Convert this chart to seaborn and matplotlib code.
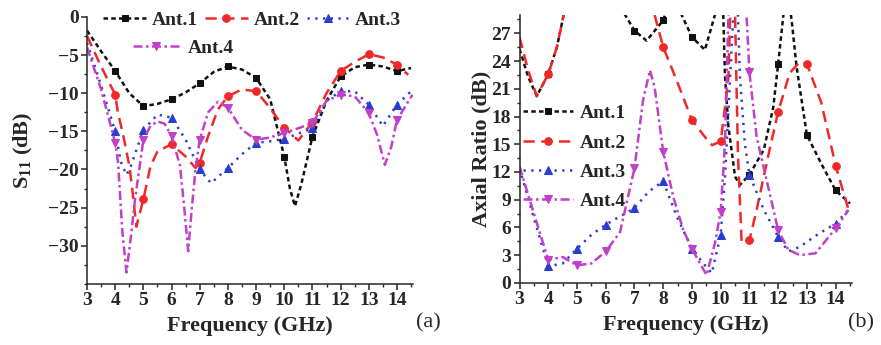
import matplotlib
matplotlib.use("Agg")
import matplotlib.pyplot as plt
from matplotlib.ticker import MultipleLocator
import seaborn as sns
import pandas as pd

# ---------------- data: (a) S11 ----------------
s11_freq_ant1 = [3, 3.5, 4, 4.5, 5, 5.5, 6, 6.5, 7, 7.5, 8, 8.5, 9, 9.5, 10, 10.2, 10.38, 10.6, 11, 11.5, 12, 12.5, 13, 13.5, 14, 14.5]
s11_ant1 = [-1.8, -4.5, -7.1, -10.0, -11.7, -11.4, -10.8, -9.9, -8.7, -7.2, -6.5, -6.9, -8.0, -10.8, -18.3, -22.5, -24.8, -22.0, -15.7, -11.0, -7.8, -6.6, -6.25, -6.5, -7.1, -6.7]

s11_freq_ant2 = [3, 3.5, 4, 4.1, 4.3, 4.5, 4.6, 4.75, 5, 5.25, 5.5, 6, 6.5, 6.85, 7, 7.3, 7.65, 8, 8.5, 9, 9.4, 10, 10.5, 11, 11.5, 12, 12.5, 13, 13.5, 14, 14.4]
s11_ant2 = [-2.5, -6.5, -10.2, -12.6, -15.8, -19.5, -22.4, -27.5, -23.9, -19.6, -17.6, -16.7, -18.3, -19.8, -19.1, -15.6, -12.1, -10.4, -9.5, -9.75, -11.5, -14.5, -16.2, -13.8, -10.0, -7.1, -5.9, -4.9, -5.3, -6.25, -7.6]

s11_freq_ant3 = [3, 3.5, 4, 4.2, 4.4, 4.55, 4.7, 5, 5.5, 6, 6.5, 7, 7.4, 8, 8.5, 9, 9.5, 10, 10.5, 11, 11.5, 12, 12.5, 13, 13.5, 14, 14.5]
s11_ant3 = [-3.4, -9.0, -15.0, -19.0, -20.7, -19.6, -18.0, -14.8, -12.8, -13.2, -16.1, -20.0, -21.8, -19.8, -18.0, -16.5, -16.3, -16.0, -15.3, -14.6, -11.0, -9.75, -9.75, -11.5, -14.3, -11.5, -9.75]

s11_freq_ant4 = [3, 3.5, 4, 4.1, 4.25, 4.4, 4.55, 4.7, 5, 5.25, 5.5, 5.75, 6, 6.3, 6.45, 6.59, 6.72, 6.85, 7, 7.3, 7.65, 8, 8.5, 9, 9.5, 10, 10.5, 11, 11.5, 12, 12.5, 13, 13.3, 13.57, 13.8, 14, 14.55]
s11_ant4 = [-4.0, -9.5, -16.5, -19.0, -28.0, -33.5, -29.0, -24.0, -16.1, -14.3, -13.7, -14.0, -15.6, -19.5, -25.0, -30.7, -25.0, -20.0, -16.1, -12.5, -11.1, -11.9, -14.8, -16.1, -15.8, -15.2, -14.6, -13.9, -11.0, -10.2, -10.4, -12.6, -15.5, -19.4, -17.0, -13.5, -10.2]

# ---------------- data: (b) Axial ratio ----------------
ar_freq_ant1 = [3, 3.3, 3.6, 4, 4.3, 4.55, 5.5, 6.67, 7, 7.42, 8, 8.1, 8.35, 8.64, 9, 9.45, 9.8, 9.95, 10.09, 10.15, 10.27, 10.5, 10.67, 11, 11.5, 11.83, 12, 12.2, 12.35, 12.47, 12.64, 13, 13.5, 14, 14.5]
ar_ant1 = [25.3, 22.3, 20.2, 22.6, 25.5, 29.2, 40, 29, 27.3, 26.2, 28.4, 29.3, 31, 29, 26.6, 25.2, 29, 35, 29, 22.3, 16.9, 11.5, 10.6, 11.7, 14.4, 19.0, 23.7, 29.5, 31, 28.4, 23.4, 16.0, 12.9, 10.0, 8.6]

ar_freq_ant2 = [3, 3.3, 3.6, 4, 4.3, 4.55, 6, 7.7, 8, 8.47, 9, 9.5, 9.7, 10, 10.15, 10.27, 10.33, 10.42, 10.5, 10.6, 10.73, 11, 11.25, 11.7, 12, 12.4, 12.75, 13, 13.5, 14, 14.45]
ar_ant2 = [26.6, 23.0, 20.2, 22.6, 25.5, 29.2, 40, 29, 25.5, 21.9, 17.6, 15.6, 14.9, 15.3, 19.0, 22.3, 29, 32, 29, 14.0, 4.3, 4.6, 7.9, 14.4, 18.5, 22.7, 23.9, 23.7, 19.5, 12.7, 7.9]

ar_freq_ant3 = [3, 3.5, 4, 4.5, 5, 5.5, 6, 6.5, 7, 7.5, 8, 8.47, 9, 9.4, 9.69, 10, 10.15, 10.33, 10.44, 10.52, 10.6, 10.67, 10.84, 11, 11.5, 12, 12.35, 12.75, 13.45, 14, 14.45]
ar_ant3 = [12.4, 7.0, 1.8, 2.1, 3.7, 5.2, 6.3, 7.2, 8.1, 9.9, 11.0, 7.2, 3.7, 2.1, 1.05, 5.2, 11.5, 22.3, 29, 32, 29, 22.3, 15.1, 11.7, 7.9, 5.0, 3.4, 3.9, 5.4, 6.4, 7.9]

ar_freq_ant4 = [3, 3.5, 4, 4.5, 5, 5.5, 6, 6.5, 7, 7.3, 7.54, 7.7, 8, 8.35, 8.7, 9, 9.28, 9.51, 9.8, 10, 10.15, 10.27, 10.6, 10.9, 11, 11.25, 11.6, 12, 12.35, 12.75, 13.3, 14, 14.45]
ar_ant4 = [12.6, 7.5, 2.5, 2.8, 1.9, 2.1, 3.4, 5.5, 12.4, 19.8, 23.0, 21.2, 14.2, 9.3, 5.7, 3.7, 2.1, 0.85, 4.3, 7.7, 15.1, 29, 40, 29, 22.8, 15.8, 11.1, 5.7, 3.6, 3.0, 3.2, 5.9, 7.9]

labels = ["Ant.1", "Ant.2", "Ant.3", "Ant.4"]
x_ticks = [3, 4, 5, 6, 7, 8, 9, 10, 11, 12, 13, 14]

# ---------------- styles ----------------
colors = ["#111111", "#f02828", "#2a3dd0", "#c23fc8"]
markers = ["s", "o", "^", "v"]
dash_patterns = [(1.8, 1.3), (4.5, 2.6), (0.9, 2.2), (3.6, 1.4, 1.0, 1.4)]
msizes = [5, 5.5, 6, 6]

sns.set_style("ticks")
plt.rcParams["font.family"] = ["Liberation Serif", "DejaVu Serif"]
plt.rcParams["mathtext.fontset"] = "custom"
plt.rcParams["mathtext.rm"] = "Liberation Serif:bold"
plt.rcParams["mathtext.it"] = "Liberation Serif:bold"
plt.rcParams["mathtext.bf"] = "Liberation Serif:bold"

fig = plt.figure(figsize=(8.81, 3.45), dpi=100)
ax1 = fig.add_axes([0.0988, 0.177, 0.370, 0.774])
ax2 = fig.add_axes([0.5897, 0.180, 0.3774, 0.777])


def draw(ax, freqs, vals):
    for i, (f, v) in enumerate(zip(freqs, vals)):
        df = pd.DataFrame({"f": f, "v": v})
        idx = [k for k, x in enumerate(f) if abs(x - round(x)) < 1e-9 and x > 3.01]
        sns.lineplot(data=df, x="f", y="v", ax=ax, color=colors[i], lw=1.8,
                     marker=markers[i], markersize=msizes[i], markevery=idx,
                     markeredgecolor=colors[i], markerfacecolor=colors[i],
                     label=labels[i], sort=False, legend=False)
        ax.lines[-1].set_dashes(dash_patterns[i])
        ax.lines[-1].set_dash_capstyle("butt")


draw(ax1, [s11_freq_ant1, s11_freq_ant2, s11_freq_ant3, s11_freq_ant4],
     [s11_ant1, s11_ant2, s11_ant3, s11_ant4])
draw(ax2, [ar_freq_ant1, ar_freq_ant2, ar_freq_ant3, ar_freq_ant4],
     [ar_ant1, ar_ant2, ar_ant3, ar_ant4])

for ax in (ax1, ax2):
    ax.set_xlim(3, 14.57)
    ax.set_xticks(x_ticks)
    ax.xaxis.set_minor_locator(MultipleLocator(0.5))
    ax.tick_params(axis="both", which="major", direction="out", length=4, width=1.1,
                   labelsize=14, pad=2)
    ax.tick_params(axis="both", which="minor", direction="out", length=2.2, width=1.0)
    sns.despine(ax=ax)
    for s in ("left", "bottom"):
        ax.spines[s].set_linewidth(1.1)
    ax.set_xlabel("Frequency (GHz)", fontsize=16, fontweight="bold", labelpad=5)

ax1.set_ylim(-35, 0)
ax1.set_yticks([0, -5, -10, -15, -20, -25, -30])
ax1.yaxis.set_minor_locator(MultipleLocator(2.5))
ax1.set_ylabel(r"S$_{11}$ (dB)", fontsize=16, fontweight="bold", labelpad=9)

ax2.set_ylim(0, 29)
ax2.set_yticks([0, 3, 6, 9, 12, 15, 18, 21, 24, 27])
ax2.yaxis.set_minor_locator(MultipleLocator(1.5))
ax2.set_ylabel("Axial Ratio (dB)", fontsize=16, fontweight="bold", labelpad=0)

for ax in (ax1, ax2):
    for lab in ax.get_xticklabels() + ax.get_yticklabels():
        lab.set_fontweight("bold")

legend_font = {"family": "Liberation Serif", "weight": "bold", "size": 14}
h1 = ax1.get_lines()
leg1 = ax1.legend(h1[:3], labels[:3], ncol=3, loc="upper left", bbox_to_anchor=(0.05, 1.02),
                  frameon=False, prop=legend_font, handlelength=2.2, handletextpad=0.3,
                  columnspacing=0.35, borderaxespad=0, borderpad=0)
ax1.add_artist(leg1)
ax1.legend(h1[3:], labels[3:], loc="upper left", bbox_to_anchor=(0.14, 0.915),
           frameon=False, prop=legend_font, handlelength=2.4, handletextpad=0.45,
           borderaxespad=0, borderpad=0)

h2 = ax2.get_lines()
ax2.legend(h2, labels, loc="upper left", bbox_to_anchor=(0.01, 0.665), frameon=False,
           prop=legend_font, handlelength=2.6, handletextpad=0.35, labelspacing=0.6,
           borderaxespad=0, borderpad=0)

fig.text(0.472, 0.065, "(a)", fontsize=16, ha="left", va="center")
fig.text(0.962, 0.065, "(b)", fontsize=16, ha="left", va="center")

fig.savefig("out.png", dpi=100)
